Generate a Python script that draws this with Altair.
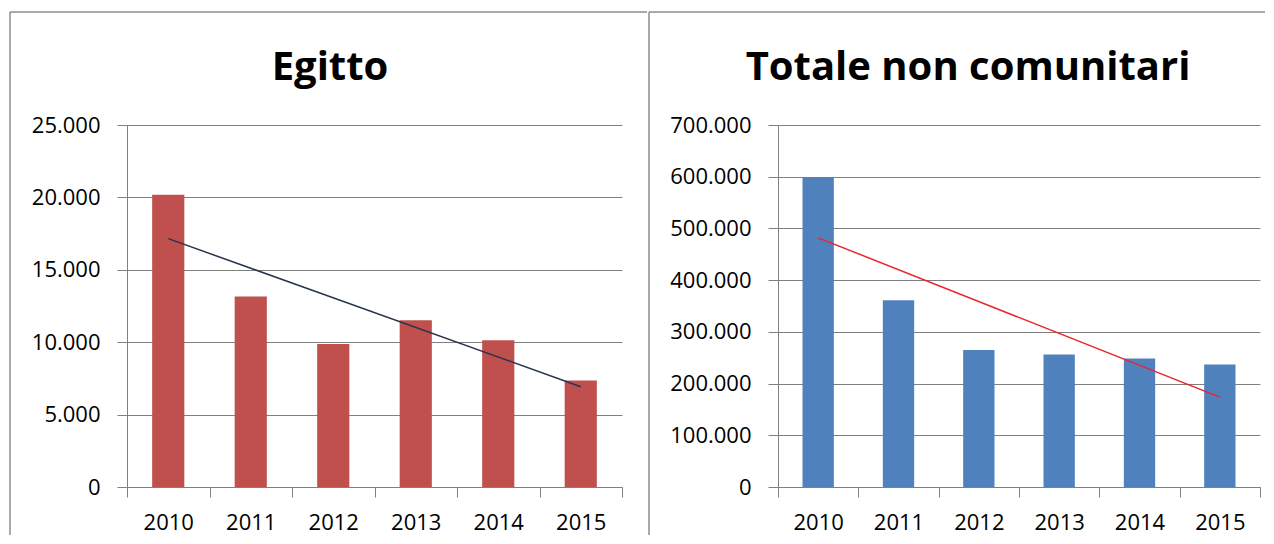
import altair as alt
import pandas as pd

# --- data ---
anni = [2010, 2011, 2012, 2013, 2014, 2015]
egitto = [20190, 13160, 9870, 11520, 10140, 7360]
non_comunitari = [598900, 361300, 264700, 256300, 248600, 237000]
titoli = ["Egitto", "Totale non comunitari"]
tick_egitto = [0, 5000, 10000, 15000, 20000, 25000]
tick_nc = [0, 100000, 200000, 300000, 400000, 500000, 600000, 700000]

FONT = "Open Sans"
GRID = "#808080"
BORDER = "#8c8c8c"
H = 362


def panel(values, title, ticks, ymax, bar_color, trend_color, width,
          title_x, left_x, top_x2):
    df = pd.DataFrame({"Anno": anni, "Valore": values})
    base = alt.Chart(df)
    x = alt.X(
        "Anno:O", title=None,
        scale=alt.Scale(paddingInner=0, paddingOuter=0),
        axis=alt.Axis(labelAngle=0, tickBand="extent", tickSize=10,
                      tickColor=GRID, domainColor=GRID, grid=False,
                      labelPadding=32, labelBaseline="alphabetic"),
    )
    y = alt.Y(
        "Valore:Q", title=None,
        scale=alt.Scale(domain=[0, ymax], nice=False),
        axis=alt.Axis(values=ticks, grid=True, gridColor=GRID,
                      tickColor=GRID, domainColor=GRID, tickSize=10,
                      labelPadding=17,
                      labelExpr="replace(format(datum.value, ',d'), ',', '.')"),
    )
    bars = base.mark_bar(color=bar_color,
                         width=alt.RelativeBandSize(0.39)).encode(x=x, y=y)
    trend = (base.transform_regression("Anno", "Valore")
             .mark_line(color=trend_color, strokeWidth=1.5)
             .encode(x=x, y=y))
    tb = alt.Chart(pd.DataFrame({"Titolo": [title]}))
    text = tb.mark_text(font=FONT, fontSize=40, fontWeight="bold",
                        color="black", align="center",
                        baseline="alphabetic").encode(
        text="Titolo:N", x=alt.value(title_x), y=alt.value(-45))
    top = tb.mark_rule(color=BORDER, strokeWidth=1.5).encode(
        x=alt.value(left_x), x2=alt.value(top_x2), y=alt.value(-113))
    left = tb.mark_rule(color=BORDER, strokeWidth=1.5).encode(
        x=alt.value(left_x), y=alt.value(-113), y2=alt.value(410))
    return alt.layer(bars, trend, text, top, left).properties(
        width=width, height=H)


left_panel = panel(egitto, titoli[0], tick_egitto, 25000,
                   "#C0504D", "#27344F", 495, 203, -117, 520)
right_panel = panel(non_comunitari, titoli[1], tick_nc, 700000,
                    "#4F81BD", "#E8262E", 482, 190, -129, 487)

chart = (
    alt.hconcat(left_panel, right_panel, spacing=0)
    .properties(padding={"left": 1, "top": 3, "right": 0, "bottom": 0})
    .configure_view(stroke=None)
    .configure_axis(labelFont=FONT, labelFontSize=22, labelColor="black")
)

chart.save("out.html", embed_options={"renderer": "svg", "actions": False})
